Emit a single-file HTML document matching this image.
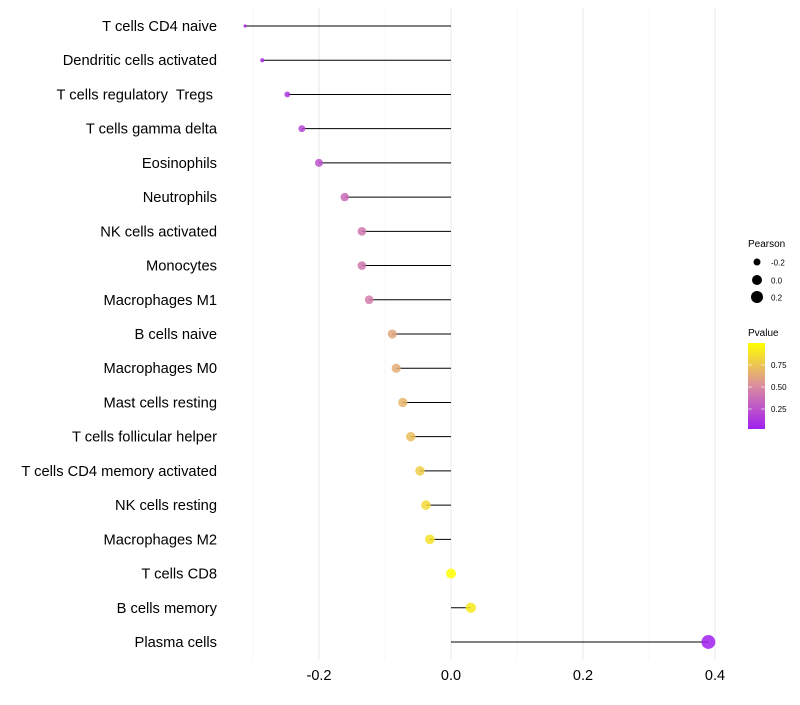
<!DOCTYPE html>
<html><head><meta charset="utf-8"><style>
body{margin:0;background:#fff;font-family:"Liberation Sans",sans-serif}
svg text{font-family:"Liberation Sans",sans-serif}
</style></head><body>
<svg id="chart" width="800" height="700" xmlns="http://www.w3.org/2000/svg">
<defs><linearGradient id="pg" x1="0" y1="1" x2="0" y2="0">
<stop offset="0" stop-color="#A020F0"/><stop offset="0.5" stop-color="#DA8CA0"/><stop offset="1" stop-color="#FFFF00"/></linearGradient></defs>
<g id="grid"></g><g id="marks"></g><g id="labels"></g>
<g>
<text x="748" y="247" font-size="10">Pearson</text>
<circle cx="757" cy="262" r="3.5" fill="#000"/>
<text x="771" y="265.5" font-size="8">-0.2</text>
<circle cx="757" cy="280" r="5" fill="#000"/>
<text x="771" y="283.5" font-size="8">0.0</text>
<circle cx="757" cy="297" r="6" fill="#000"/>
<text x="771" y="300.5" font-size="8">0.2</text>
</g>
<g>
<text x="748" y="336" font-size="10">Pvalue</text>
<rect x="748" y="343" width="17" height="86" fill="url(#pg)"/>
<line x1="748" x2="752" y1="365" y2="365" stroke="#fff" opacity="0.6"/><line x1="761" x2="765" y1="365" y2="365" stroke="#fff" opacity="0.6"/>
<line x1="748" x2="752" y1="387" y2="387" stroke="#fff" opacity="0.6"/><line x1="761" x2="765" y1="387" y2="387" stroke="#fff" opacity="0.6"/>
<line x1="748" x2="752" y1="409" y2="409" stroke="#fff" opacity="0.6"/><line x1="761" x2="765" y1="409" y2="409" stroke="#fff" opacity="0.6"/>
<text x="771" y="368" font-size="8">0.75</text>
<text x="771" y="390" font-size="8">0.50</text>
<text x="771" y="412" font-size="8">0.25</text>
</g>
</svg>
<script>
const categories=["T cells CD4 naive","Dendritic cells activated","T cells regulatory  Tregs ","T cells gamma delta","Eosinophils","Neutrophils","NK cells activated","Monocytes","Macrophages M1","B cells naive","Macrophages M0","Mast cells resting","T cells follicular helper","T cells CD4 memory activated","NK cells resting","Macrophages M2","T cells CD8","B cells memory","Plasma cells"];
const pearson=[-0.312,-0.286,-0.248,-0.226,-0.200,-0.161,-0.135,-0.135,-0.124,-0.089,-0.083,-0.073,-0.061,-0.047,-0.038,-0.032,0.000,0.030,0.390];
const pvalues=[0.06,0.10,0.15,0.20,0.25,0.36,0.42,0.42,0.45,0.62,0.64,0.68,0.72,0.78,0.83,0.87,0.99,0.90,0.03];
const xTicks=[-0.2,0.0,0.2,0.4];
const xTickLabels=["-0.2","0.0","0.2","0.4"];
const xMinor=[-0.3,-0.1,0.1,0.3];

const ns="http://www.w3.org/2000/svg";
const x=v=>451+v*660;
const y=i=>26+i*(616/18);
// radius scale: piecewise linear knots (domain -> px)
const rKnotsD=[-0.32,-0.2,0,0.4], rKnotsR=[1.4,4,5,7];
function rad(v){for(let k=1;k<rKnotsD.length;k++){if(v<=rKnotsD[k]||k===rKnotsD.length-1){const t=(v-rKnotsD[k-1])/(rKnotsD[k]-rKnotsD[k-1]);return Math.max(1,rKnotsR[k-1]+t*(rKnotsR[k]-rKnotsR[k-1]));}}}
function lerp(a,b,t){return a.map((c,i)=>Math.round(c+(b[i]-c)*t));}
function col(p){const a=[160,32,240],m=[218,140,160],b=[255,255,0];
 let t=Math.min(1,Math.max(0,(p-0.034)/(0.99-0.034)));
 const c=t<0.5?lerp(a,m,t*2):lerp(m,b,(t-0.5)*2);return `rgb(${c})`;}
function mk(tag,at,parent){const e=document.createElementNS(ns,tag);for(const k in at)e.setAttribute(k,at[k]);parent.appendChild(e);return e;}
const G=document.getElementById('grid'),M=document.getElementById('marks'),L=document.getElementById('labels');
xMinor.forEach(v=>{const l=mk('line',{x1:x(v),x2:x(v),y1:8,y2:660,stroke:'#f2f2f2','stroke-width':0.6},G);

});
xTicks.forEach((v,i)=>{const l=mk('line',{x1:x(v),x2:x(v),y1:8,y2:660,stroke:'#ebebeb','stroke-width':1.1},G);


const t=mk('text',{x:x(v),y:680,'font-size':14.5,'text-anchor':'middle',fill:'#000'},L);t.textContent=xTickLabels[i];

});
categories.forEach((c,i)=>{
 const t=mk('text',{x:217,y:y(i)+5,'font-size':14.7,'text-anchor':'end',fill:'#000'},L);t.textContent=c;t.style.whiteSpace='pre';
 
 
 const l=mk('line',{x1:x(0),x2:x(pearson[i]),y1:y(i),y2:y(i),stroke:'#000','stroke-width':1},M);
 
 
 const d=mk('circle',{cx:x(pearson[i]),cy:y(i),r:rad(pearson[i]),fill:col(pvalues[i]),'fill-opacity':0.85},M);
 
 
});
</script>
</body></html>
